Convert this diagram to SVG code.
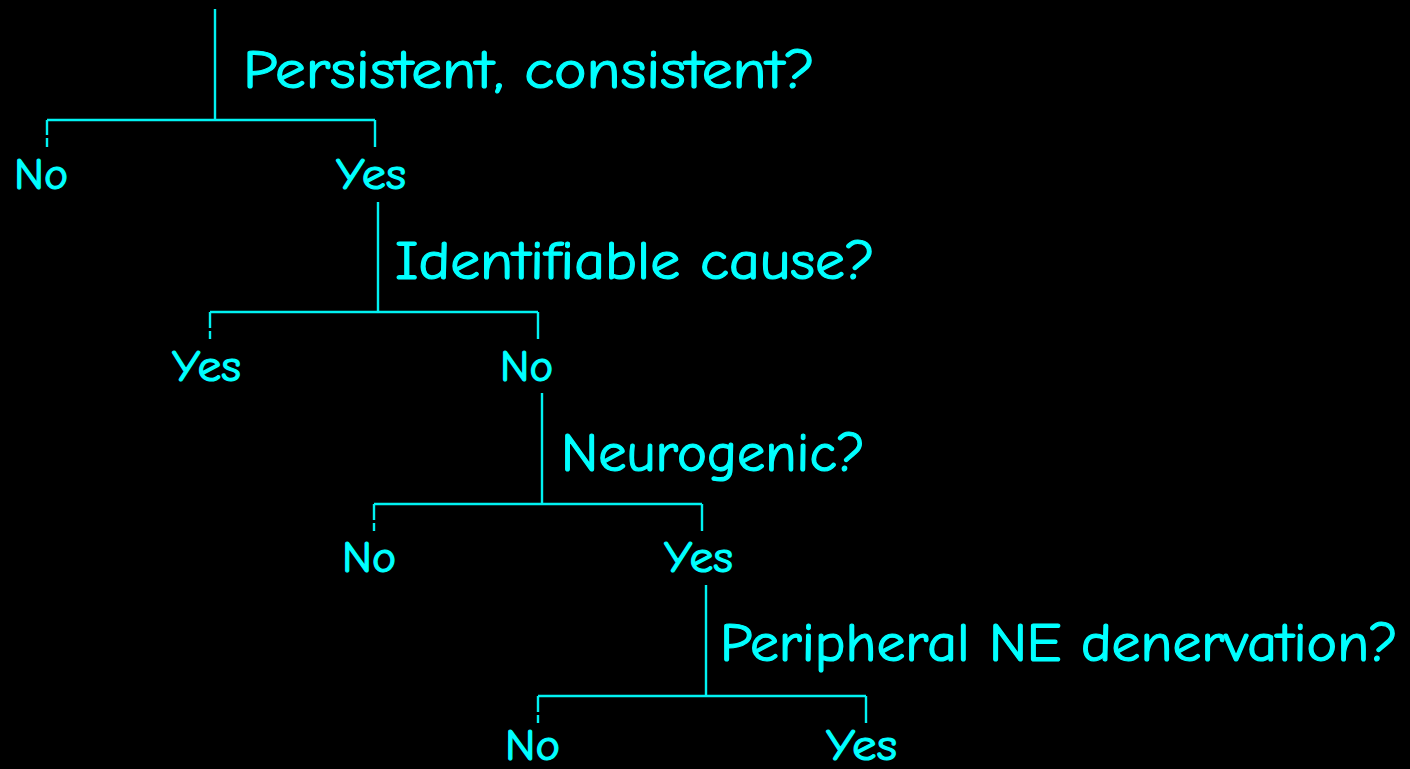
<svg xmlns="http://www.w3.org/2000/svg" width="1410" height="769" viewBox="0 0 1410 769">
  <style>
    .bg { fill: #000000; }
    .wire { stroke: #00f2f2; stroke-width: 2.4; fill: none; }
    .q, .a { fill: #00ffff; stroke: #00ffff; stroke-width: 1.2; stroke-linejoin: round;
             font-family: "Comic Sans MS", "Comic Neue", "DejaVu Sans", sans-serif; }
    .q { font-size: 55px; }
    .a { font-size: 44px; }
  </style>
  <rect class="bg" x="0" y="0" width="1410" height="769"/>

  <!-- branch lines -->
  <g id="connectors">
    <path class="wire" d="M215 9 V120 M47 120 H375 M47 120 V135 M47 138 V147 M375 120 V147"/>
    <path class="wire" d="M378 202 V312 M210 312 H538 M210 312 V328 M210 331 V339 M538 312 V339"/>
    <path class="wire" d="M542 393 V504 M374 504 H702 M374 504 V520 M374 523 V531 M702 504 V531"/>
    <path class="wire" d="M706 585 V696 M538 696 H866 M538 696 V712 M538 715 V723 M866 696 V723"/>
  </g>

  <g id="q1"><text class="q" x="243" y="88" textLength="572" lengthAdjust="spacingAndGlyphs">Persistent, consistent?</text></g>
  <g id="q1-no"><text class="a" x="14" y="189" textLength="54" lengthAdjust="spacingAndGlyphs">No</text></g>
  <g id="q1-yes"><text class="a" x="336" y="189" textLength="70" lengthAdjust="spacingAndGlyphs">Yes</text></g>

  <g id="q2"><text class="q" x="395" y="279" textLength="480" lengthAdjust="spacingAndGlyphs">Identifiable cause?</text></g>
  <g id="q2-yes"><text class="a" x="172" y="381" textLength="69" lengthAdjust="spacingAndGlyphs">Yes</text></g>
  <g id="q2-no"><text class="a" x="500" y="381" textLength="53" lengthAdjust="spacingAndGlyphs">No</text></g>

  <g id="q3"><text class="q" x="561" y="471" textLength="304" lengthAdjust="spacingAndGlyphs">Neurogenic?</text></g>
  <g id="q3-no"><text class="a" x="342" y="572" textLength="54" lengthAdjust="spacingAndGlyphs">No</text></g>
  <g id="q3-yes"><text class="a" x="664" y="572" textLength="69" lengthAdjust="spacingAndGlyphs">Yes</text></g>

  <g id="q4"><text class="q" x="720" y="661" textLength="678" lengthAdjust="spacingAndGlyphs">Peripheral NE denervation?</text></g>
  <g id="q4-no"><text class="a" x="505" y="760" textLength="55" lengthAdjust="spacingAndGlyphs">No</text></g>
  <g id="q4-yes"><text class="a" x="826" y="760" textLength="71" lengthAdjust="spacingAndGlyphs">Yes</text></g>
</svg>
